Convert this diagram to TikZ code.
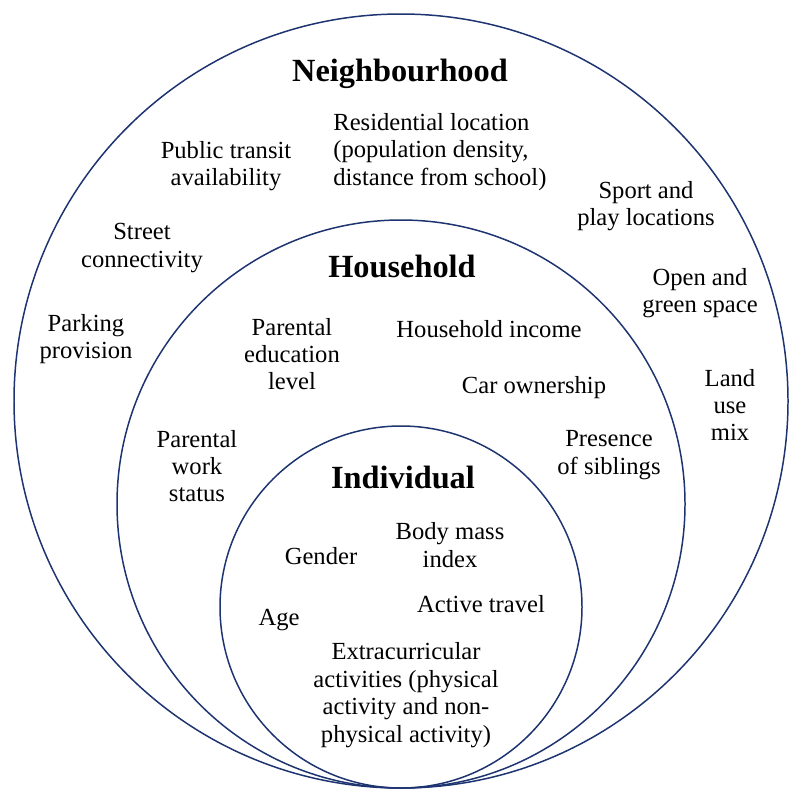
\documentclass[tikz,border=0pt]{standalone}
\usepackage{fontspec}
\setmainfont{Liberation Serif}
\definecolor{ringblue}{RGB}{30,52,112}
\begin{document}
\begin{tikzpicture}[x=0.02cm, y=-0.02cm,
    ring/.style={draw=ringblue, line width=0.85pt},
    factor/.style={align=center, inner sep=0pt, font=\fontsize{14}{15.6}\selectfont},
    level/.style={inner sep=0pt, font=\fontsize{18.4}{20}\selectfont\bfseries}]
    \useasboundingbox (0,0) rectangle (800,798);
    % the three levels, touching at the bottom
    \draw[ring] (401,401) circle[radius=387];
    \draw[ring] (401,504) circle[radius=284];
    \draw[ring] (401,607) circle[radius=181];
    % neighbourhood
    \node[level] (neigh) at (400,74) {Neighbourhood};
    \node[factor, align=left, anchor=west] (resid) at (333,152) {Residential location\\(population density,\\distance from school)};
    \node[factor] (transit) at (226,166) {Public transit\\availability};
    \node[factor] (sport) at (646,206) {Sport and\\play locations};
    \node[factor] (street) at (142,248) {Street\\connectivity};
    \node[factor] (green) at (700,293) {Open and\\green space};
    \node[factor] (parking) at (86,339) {Parking\\provision};
    \node[factor] (landuse) at (730,405) {Land\\use\\mix};
    % household
    \node[level] (house) at (402,266) {Household};
    \node[factor] (educ) at (292,354) {Parental\\education\\level};
    \node[factor] (income) at (489,329) {Household income};
    \node[factor] (car) at (534,388) {Car ownership};
    \node[factor] (work) at (197,466) {Parental\\work\\status};
    \node[factor] (sibl) at (609,455) {Presence\\of siblings};
    % individual
    \node[level] (indiv) at (403,477) {Individual};
    \node[factor] (bmi) at (450,545) {Body mass\\index};
    \node[factor] (gender) at (321,556) {Gender};
    \node[factor] (travel) at (481,604) {Active travel};
    \node[factor] (age) at (279,620) {Age};
    \node[factor] (extra) at (406,695) {Extracurricular\\activities (physical\\activity and non-\\physical activity)};
\end{tikzpicture}
\end{document}
